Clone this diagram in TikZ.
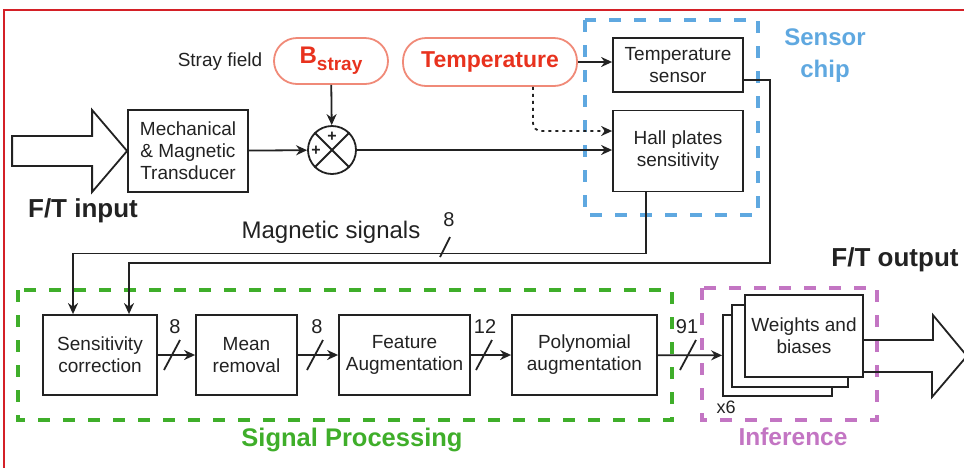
\documentclass[tikz,border=0pt]{standalone}
\usepackage{fontspec}
\setmainfont{Liberation Sans}
\usetikzlibrary{arrows.meta}
\definecolor{framered}{HTML}{D42027}
\definecolor{pillred}{HTML}{E8321E}
\definecolor{pilledge}{HTML}{F08A78}
\definecolor{chipblue}{HTML}{5FA8E0}
\definecolor{procgreen}{HTML}{3FAE2A}
\definecolor{infmag}{HTML}{C375C3}
\definecolor{ink}{HTML}{222222}
\begin{document}
\begin{tikzpicture}[>={Stealth[length=11pt,width=10pt]}, x=1pt, y=-1pt, line width=1.8pt, draw=ink, text=ink,
  blk/.style={draw, align=center, inner sep=0pt, font=\fontsize{19}{22}\selectfont},
  pill/.style={draw=pilledge, rounded corners=23pt, text=pillred, inner sep=0pt, font=\bfseries\fontsize{23}{26}\selectfont},
  grp/.style={line width=4pt, dash pattern=on 12pt off 13pt},
  num/.style={font=\fontsize{20}{22}\selectfont},
  big/.style={font=\bfseries\fontsize{26}{30}\selectfont}]
\useasboundingbox (0,0) rectangle (964,467);
\draw[framered, line width=2.5pt] (4,470) -- (4,10) -- (970,10);

% group frames
\draw[grp, chipblue] (585,20) rectangle (758,215);
\draw[grp, procgreen] (18,290) rectangle (672,420);
\draw[grp, infmag] (702,288) rectangle (877,420);
\node[font=\bfseries\fontsize{24}{32}\selectfont, text=chipblue, align=center] (chip) at (825,56) {Sensor\\chip};
\node[font=\bfseries\fontsize{25.5}{30}\selectfont, text=procgreen] (sp) at (352,440) {Signal Processing};
\node[font=\bfseries\fontsize{24.5}{30}\selectfont, text=infmag] (inf) at (793,437) {Inference};

% top row
\node[blk, minimum width=120, minimum height=82] (mech) at (188,151) {Mechanical\\\& Magnetic\\Transducer};
\node[draw, circle, minimum size=48, inner sep=0pt] (sum) at (332,150) {};
\draw (sum.north west) -- (sum.south east) (sum.north east) -- (sum.south west);
\node[font=\bfseries\fontsize{16}{16}\selectfont] (plus1) at (332,137) {+};
\node[font=\bfseries\fontsize{16}{16}\selectfont] (plus2) at (316,151) {+};
\node[pill, minimum width=114, minimum height=46] (bstray) at (331,61) {\fontsize{24}{26}\selectfont B\raisebox{-7pt}{\fontsize{19}{20}\selectfont stray}};
\node[font=\fontsize{19}{22}\selectfont] (stray) at (220,62) {Stray field};
\node[pill, minimum width=174, minimum height=48] (temp) at (490,62) {Temperature};
\node[blk, minimum width=130, minimum height=54] (tsens) at (678,65) {Temperature\\sensor};
\node[blk, minimum width=130, minimum height=81] (hall) at (678,151) {Hall plates\\sensitivity};
\node[big] (ftin) at (83,211) {F/T input};

\draw (mech.west) -- ++(-35,-41) -- ++(0,26) -- ++(-80,0) -- ++(0,30) -- ++(80,0) -- ++(0,26) -- cycle;
\draw[->] (mech) -- (sum);
\draw[->] (bstray) -- (sum);
\draw[->] (sum) -- (sum -| hall.west);
\draw[->] (temp) -- (temp -| tsens.west);
\draw[->, dash pattern=on 3pt off 4pt, rounded corners=8pt] ([xshift=43pt]temp.south) |- ([yshift=20pt]hall.west);

% bottom row
\node[blk, minimum width=114, minimum height=80] (sens) at (100,355) {Sensitivity\\correction};
\node[blk, minimum width=101, minimum height=80] (mean) at (246.5,355) {Mean\\removal};
\node[blk, minimum width=131, minimum height=80] (feat) at (404.5,355) {Feature\\Augmentation};
\node[blk, minimum width=145, minimum height=80] (poly) at (584.5,355) {Polynomial\\augmentation};
\node[blk, fill=white, minimum width=109, minimum height=81] (wb3) at (777.5,355.5) {};
\node[blk, fill=white, minimum width=116, minimum height=82] (wb2) at (790,346) {};
\node[blk, fill=white, minimum width=118, minimum height=82] (wb1) at (804,336) {Weights and\\biases};
\node[font=\fontsize{18}{20}\selectfont] (x6) at (726,407) {x6};
\node[big] (ftout) at (895,260) {F/T output};

\draw[->] ([xshift=-32pt]hall.south) -- ++(0,61) -| ([xshift=-27pt]sens.north);
\draw[->] ([yshift=-15pt]tsens.east) -| (770,263) -| ([xshift=29pt]sens.north);
\node[font=\fontsize{24}{28}\selectfont] (magsig) at (331,232) {Magnetic signals};
\draw (440,257) -- (450,237);
\node[num] (bus8) at (449,220) {8};

\draw[->] (sens) -- (mean);
\draw[->] (mean) -- (feat);
\draw[->] (feat) -- (poly);
\draw[->] (poly) -- (wb3);
\foreach \sx/\nx/\lab [count=\i] in {172/175/8, 315/317/8, 484/485/12, 688/687/91} {
  \draw (\sx-8,370) -- (\sx+8,340);
  \node[num] (dim\i) at (\nx,327) {\lab};
}
\draw ([yshift=-4pt]wb1.east) -- ++(69,0) -- ++(0,-25) -- (967,356) -- (932,397) -- (932,372) -- ([yshift=-36pt]wb1.east);
\end{tikzpicture}
\end{document}
